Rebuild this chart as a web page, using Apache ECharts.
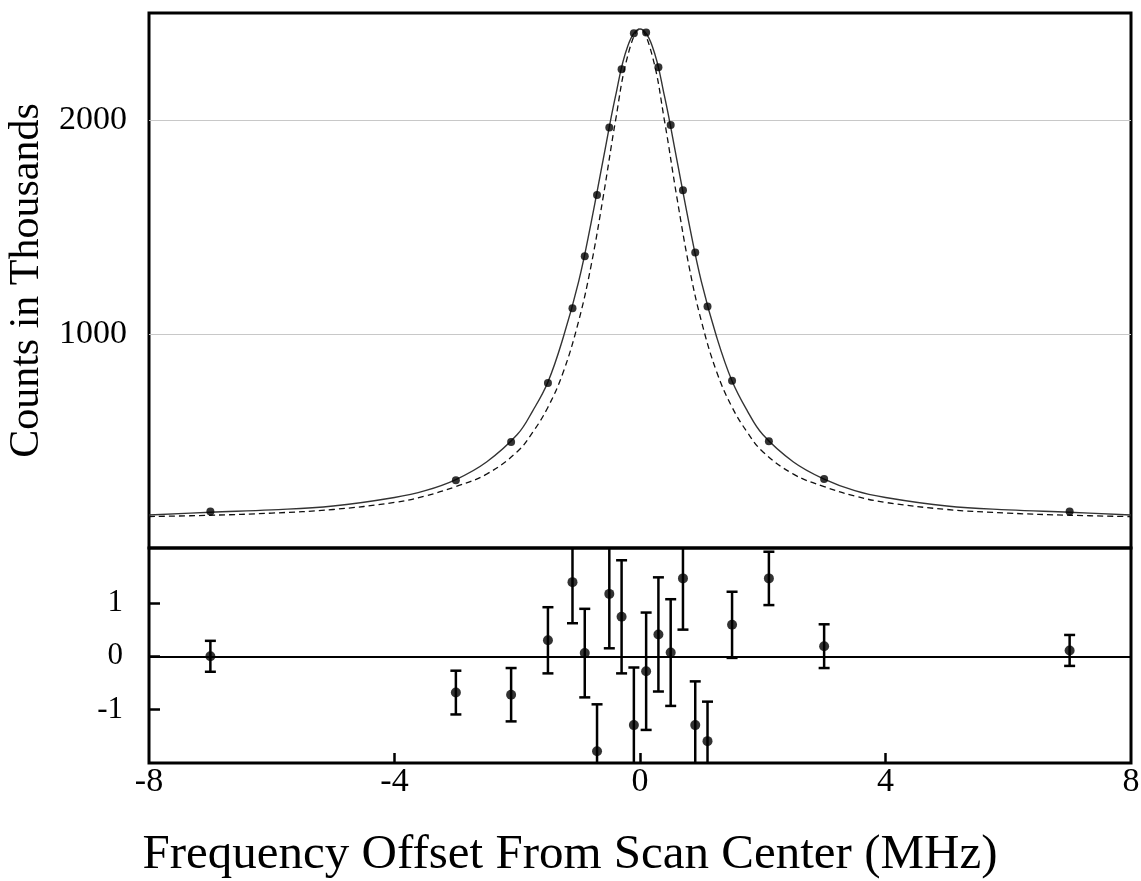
<!DOCTYPE html>
<html>
<head>
<meta charset="utf-8">
<script src="https://cdn.jsdelivr.net/npm/echarts@6/dist/echarts.min.js"></script>
<style>
html,body{margin:0;padding:0;background:#fff;}
#chart{width:1141px;height:881px;}
</style>
</head>
<body>
<div id="chart"></div>
<script>
// ---- Data ----
// Measured counts (thousands) vs frequency offset (MHz)
const pointX = [-7, -3, -2.1, -1.5, -1.1, -0.9, -0.7, -0.5, -0.3, -0.1, 0.1, 0.3, 0.5, 0.7, 0.9, 1.1, 1.5, 2.1, 3, 7];
const pointCounts = [171, 317, 495, 771, 1120, 1363, 1649, 1965, 2237, 2405, 2409, 2246, 1977, 1672, 1381, 1129, 782, 499, 323, 171];

// Fitted curve (solid) and comparison curve (dashed), read at these offsets
const curveX = [-8, -7, -6, -5, -4, -3.5, -3, -2.5, -2, -1.75, -1.5, -1.25, -1, -0.8, -0.6, -0.4, -0.2, 0, 0.2, 0.4, 0.6, 0.8, 1, 1.25, 1.5, 1.75, 2, 2.5, 3, 3.5, 4, 5, 6, 7, 8];
const fitCounts = [154, 167, 178, 196, 236, 268, 320, 402, 530, 640, 776, 985, 1245, 1515, 1815, 2110, 2345, 2425, 2345, 2110, 1815, 1515, 1245, 985, 780, 640, 530, 402, 322, 268, 236, 196, 178, 167, 154];
const dashedCounts = [147, 153, 163, 180, 213, 243, 287, 345, 450, 540, 658, 822, 1060, 1315, 1640, 1995, 2300, 2425, 2300, 1995, 1640, 1315, 1060, 822, 658, 540, 450, 345, 287, 243, 213, 180, 163, 153, 147];

// Residuals with error bars
const resX = [-7, -3, -2.1, -1.5, -1.1, -0.9, -0.7, -0.5, -0.3, -0.1, 0.1, 0.3, 0.5, 0.7, 0.9, 1.1, 1.5, 2.1, 3, 7];
const resVal = [0.0, -0.68, -0.72, 0.30, 1.39, 0.06, -1.78, 1.17, 0.74, -1.29, -0.28, 0.41, 0.07, 1.46, -1.29, -1.59, 0.59, 1.46, 0.19, 0.11];
const resErr = [0.29, 0.41, 0.50, 0.62, 0.77, 0.83, 0.88, 1.02, 1.06, 1.08, 1.10, 1.07, 1.00, 0.96, 0.82, 0.74, 0.62, 0.50, 0.41, 0.29];

// Tick labels
const xTicks = [-8, -4, 0, 4, 8];
const xTickMarks = [-4, 0, 4];
const countTicks = [1000, 2000];
const resTicks = [-1, 0, 1];

const xTitle = 'Frequency Offset From Scan Center (MHz)';
const yTitle = 'Counts in Thousands';

// ---- Build series data ----
const pts = pointX.map((x, i) => [x, pointCounts[i]]);
const fit = curveX.map((x, i) => [x, fitCounts[i]]);
const dash = curveX.map((x, i) => [x, dashedCounts[i]]);
const res = resX.map((x, i) => [x, resVal[i], resErr[i]]);

const serif = '"Liberation Serif", "DejaVu Serif", serif';
const plain = v => String(v);

const chart = echarts.init(document.getElementById('chart'), null, {renderer: 'canvas'});

const option = {
  animation: false,
  backgroundColor: '#fff',
  title: {
    text: xTitle,
    left: 565,
    textAlign: 'center',
    top: 826,
    textStyle: {fontFamily: serif, fontSize: 49, fontWeight: 'normal', color: '#000'}
  },
  grid: [
    {left: 149, right: 10, top: 13, height: 535, show: true, borderColor: '#000', borderWidth: 3, backgroundColor: 'transparent', outerBoundsMode: 'none', containLabel: false},
    {left: 149, right: 10, top: 548, height: 215, show: true, borderColor: '#000', borderWidth: 3, backgroundColor: 'transparent', outerBoundsMode: 'none', containLabel: false}
  ],
  xAxis: [
    {
      gridIndex: 0, type: 'value', min: -8, max: 8, interval: 4,
      axisLine: {show: false, onZero: false}, axisTick: {show: false}, axisLabel: {show: false}, splitLine: {show: false}
    },
    {
      gridIndex: 1, type: 'value', min: -8, max: 8, interval: 4, position: 'bottom',
      axisLine: {show: false, onZero: false},
      axisTick: {show: true, inside: true, length: 10, customValues: xTickMarks, lineStyle: {color: '#000', width: 2.5}},
      axisLabel: {show: true, customValues: xTicks, formatter: plain, margin: 2, fontFamily: serif, fontSize: 34, color: '#000'},
      splitLine: {show: false}
    }
  ],
  yAxis: [
    {
      gridIndex: 0, type: 'value', min: 0, max: 2500, interval: 1000,
      axisLine: {show: false, onZero: false}, axisTick: {show: false},
      axisLabel: {show: true, customValues: countTicks, formatter: plain, margin: 22, fontFamily: serif, fontSize: 34, color: '#000'},
      splitLine: {show: true, showMinLine: false, showMaxLine: false, lineStyle: {color: '#c8c8c8', width: 1}},
      name: yTitle, nameLocation: 'middle', nameGap: 100,
      nameTextStyle: {fontFamily: serif, fontSize: 42, color: '#000'}
    },
    {
      gridIndex: 1, type: 'value', min: -2, max: 2.03, interval: 1,
      axisLine: {show: false, onZero: false},
      axisTick: {show: true, inside: true, length: 11, customValues: resTicks, lineStyle: {color: '#000', width: 2.5}},
      axisLabel: {show: true, customValues: resTicks, formatter: plain, margin: 26, fontFamily: serif, fontSize: 31, color: '#000'},
      splitLine: {show: false}
    }
  ],
  series: [
    {
      type: 'line', xAxisIndex: 0, yAxisIndex: 0, data: dash, smooth: 0.4,
      showSymbol: false, symbol: 'none',
      lineStyle: {color: '#111', width: 1.3, type: [6, 4]}, z: 2
    },
    {
      type: 'line', xAxisIndex: 0, yAxisIndex: 0, data: fit, smooth: 0.4,
      showSymbol: false, symbol: 'none',
      lineStyle: {color: '#333', width: 1.4}, z: 3
    },
    {
      type: 'scatter', xAxisIndex: 0, yAxisIndex: 0, data: pts,
      symbol: 'circle', symbolSize: 8, itemStyle: {color: '#000'}, z: 5
    },
    {
      type: 'custom', xAxisIndex: 1, yAxisIndex: 1, data: res,
      renderItem: function (params, api) {
        const x = api.value(0), v = api.value(1), e = api.value(2);
        const top = api.coord([x, v + e]);
        const bot = api.coord([x, v - e]);
        const cs = params.coordSys;
        const yMin = cs.y, yMax = cs.y + cs.height;
        const t = Math.max(top[1], yMin);
        const b = Math.min(bot[1], yMax);
        const px = top[0];
        const hw = 5.5;
        const st = {stroke: '#000', lineWidth: 2.5};
        const children = [{type: 'line', shape: {x1: px, y1: t, x2: px, y2: b}, style: st}];
        if (top[1] >= yMin) children.push({type: 'line', shape: {x1: px - hw, y1: top[1], x2: px + hw, y2: top[1]}, style: st});
        if (bot[1] <= yMax) children.push({type: 'line', shape: {x1: px - hw, y1: bot[1], x2: px + hw, y2: bot[1]}, style: st});
        return {type: 'group', children: children};
      },
      z: 4
    },
    {
      type: 'scatter', xAxisIndex: 1, yAxisIndex: 1,
      data: res.map(r => [r[0], r[1]]),
      symbol: 'circle', symbolSize: 10, itemStyle: {color: '#000'}, z: 5,
      markLine: {
        silent: true, symbol: ['none', 'none'], label: {show: false},
        lineStyle: {color: '#000', width: 2, type: 'solid'},
        data: [{yAxis: 0}]
      }
    }
  ]
};
chart.setOption(option);
</script>
</body>
</html>
